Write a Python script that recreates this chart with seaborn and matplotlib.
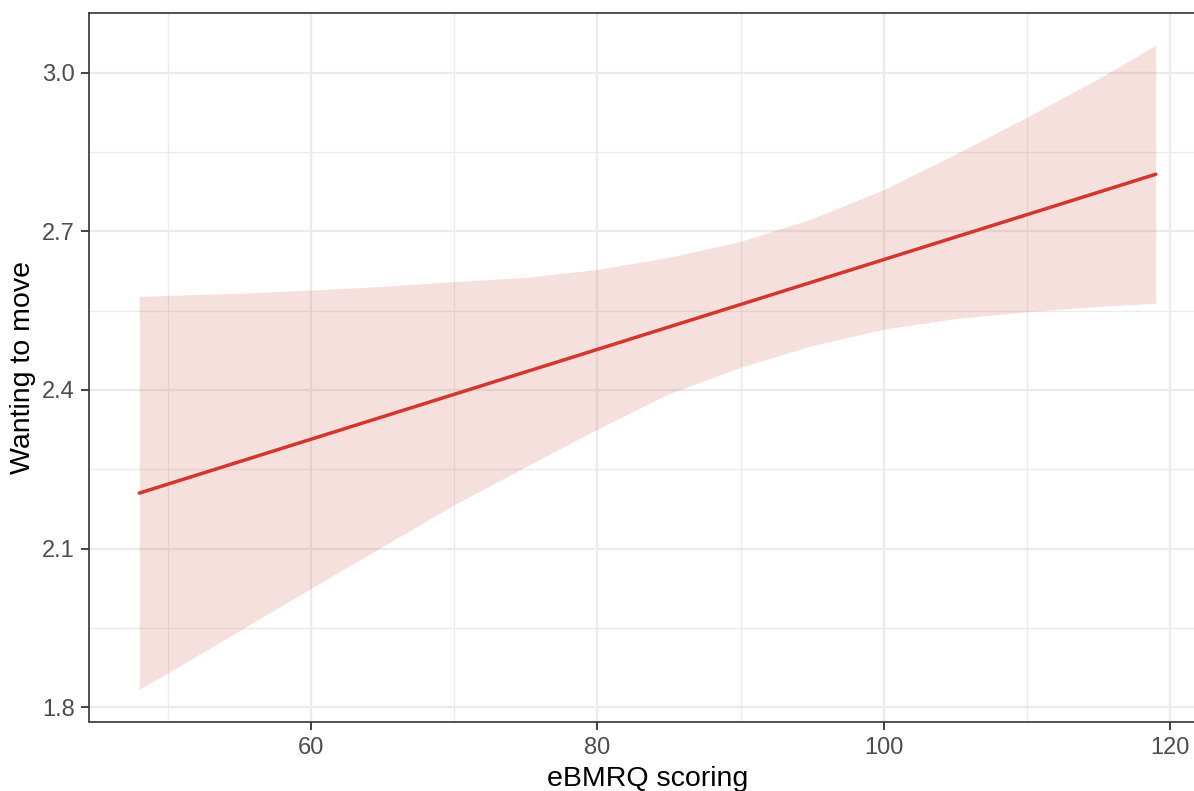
import numpy as np
import pandas as pd
import matplotlib
matplotlib.use("Agg")
import matplotlib.pyplot as plt
import seaborn as sns

# fitted line (linear) and its confidence band
fit_x = [48, 119]
fit_y = [2.205, 2.808]

band_x = [48, 50, 55, 60, 65, 70, 75, 80, 85, 90, 95, 100, 105, 110, 115, 119]
band_upper = [2.577, 2.579, 2.583, 2.589, 2.596, 2.605, 2.613, 2.628, 2.651,
              2.681, 2.724, 2.779, 2.846, 2.916, 2.989, 3.052]
band_lower = [1.834, 1.865, 1.945, 2.025, 2.104, 2.183, 2.255, 2.326, 2.393,
              2.443, 2.484, 2.515, 2.535, 2.548, 2.558, 2.564]

x_ticks = [60, 80, 100, 120]
x_minor = [50, 70, 90, 110]
y_ticks = [1.8, 2.1, 2.4, 2.7, 3.0]
y_tick_labels = ["1.8", "2.1", "2.4", "2.7", "3.0"]
y_minor = [1.95, 2.25, 2.55, 2.85]

line_color = "#d5352a"
band_color = "#c8432f"

sns.set_theme(style="white")
plt.rcParams["font.family"] = ["Liberation Sans", "DejaVu Sans"]

fig = plt.figure(figsize=(11.94, 7.91), dpi=100)
# panel runs past the right edge of the figure, as in the cropped reference
ax = fig.add_axes([88.5 / 1194, 69.5 / 791, 1118 / 1194, 708.5 / 791])

df_fit = pd.DataFrame({"x": fit_x, "y": fit_y})
ax.fill_between(band_x, band_lower, band_upper, color=band_color, alpha=0.16,
                linewidth=0, zorder=2)
sns.lineplot(data=df_fit, x="x", y="y", color=line_color, linewidth=2.5,
             ax=ax, zorder=3)

ax.set_xlim(44.45, 122.55)
ax.set_ylim(1.773, 3.113)
ax.set_xticks(x_ticks)
ax.set_xticks(x_minor, minor=True)
ax.set_yticks(y_ticks)
ax.set_yticklabels(y_tick_labels)
ax.set_yticks(y_minor, minor=True)

ax.grid(which="major", color="#ebebeb", linewidth=1.7, zorder=0)
ax.grid(which="minor", color="#ebebeb", linewidth=1.0, zorder=0)
ax.set_axisbelow(True)

ax.tick_params(which="major", bottom=True, left=True, length=6, width=1.3,
               color="#333333", labelsize=17, labelcolor="#4d4d4d", pad=4)
ax.tick_params(axis="x", which="major", pad=5)
ax.tick_params(which="minor", bottom=False, left=False, length=0)

for s in ax.spines.values():
    s.set_visible(True)
    s.set_color("#333333")
    s.set_linewidth(1.2)

ax.set_xlabel("eBMRQ scoring", fontsize=20.5, color="black", labelpad=5)
ax.set_ylabel("Wanting to move", fontsize=20.5, color="black", labelpad=4)

fig.savefig("out.png", dpi=100)
